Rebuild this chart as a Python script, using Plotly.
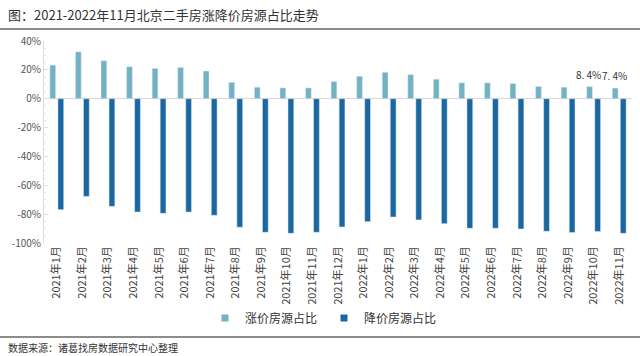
import plotly.graph_objects as go

months = ["2021年1月","2021年2月","2021年3月","2021年4月","2021年5月","2021年6月","2021年7月",
          "2021年8月","2021年9月","2021年10月","2021年11月","2021年12月","2022年1月","2022年2月",
          "2022年3月","2022年4月","2022年5月","2022年6月","2022年7月","2022年8月","2022年9月",
          "2022年10月","2022年11月"]
rise = [23.3, 32.5, 26.3, 22.2, 21.0, 21.7, 19.2, 11.4, 8.0, 7.5, 7.5, 11.9,
        15.6, 18.3, 16.7, 13.5, 11.0, 11.0, 10.5, 8.5, 8.0, 8.4, 7.4]
fall = [-76.9, -67.7, -74.6, -78.5, -79.4, -78.5, -80.8, -89.0, -92.6, -93.3, -92.6, -88.9,
        -85.2, -82.0, -84.0, -86.6, -89.8, -89.8, -90.3, -91.9, -92.8, -92.1, -93.3]
labeled = ["2022年10月", "2022年11月"]
ytick_vals = [40, 20, 0, -20, -40, -60, -80, -100]
ytick_text = ["40%", "20%", "0%", "-20%", "-40%", "-60%", "-80%", "-100%"]

FONT = "Noto Sans CJK SC"
C_RISE = "#72b2c3"
C_FALL = "#1b67a0"

fig = go.Figure()
fig.add_trace(go.Bar(x=months, y=rise, name="涨价房源占比", marker_color=C_RISE, showlegend=False))
fig.add_trace(go.Bar(x=months, y=fall, name="降价房源占比", marker_color=C_FALL, showlegend=False))
# legend entries with small square swatches
fig.add_trace(go.Scatter(x=[None], y=[None], mode="markers", name="涨价房源占比",
                         marker=dict(symbol="square", size=7, color=C_RISE)))
fig.add_trace(go.Scatter(x=[None], y=[None], mode="markers", name="降价房源占比",
                         marker=dict(symbol="square", size=7, color=C_FALL)))

L, R, T, B = 44, 8, 41, 113
W, H = 640, 356
pw = W - L - R
ph = H - T - B

fig.update_layout(
    width=W, height=H,
    margin=dict(l=L, r=R, t=T, b=B, autoexpand=False),
    paper_bgcolor="white", plot_bgcolor="white",
    barmode="group", bargap=0.37, bargroupgap=0.28,
    font=dict(family=FONT, color="#444444"),
    showlegend=True,
    legend=dict(orientation="h", x=(205 - L) / pw, xanchor="left", y=(243 - 318) / ph, yanchor="middle",
                font=dict(size=12, color="#333333", family=FONT),
                itemwidth=30, entrywidth=74, entrywidthmode="pixels",
                traceorder="normal"),
    xaxis=dict(tickangle=-90, tickfont=dict(size=11, color="#444444", family=FONT),
               showline=False, showgrid=False, ticks="", automargin=False),
    yaxis=dict(range=[-100, 40], tickvals=ytick_vals, ticktext=ytick_text, automargin=False,
               tickfont=dict(size=10, color="#555555", family=FONT),
               showgrid=False, zeroline=True, zerolinecolor="#d8d8d8", zerolinewidth=1,
               showline=True, linecolor="#dddddd", linewidth=1,
               ticks="inside", ticklen=4, tickcolor="#dddddd",
               minor=dict(ticks="inside", ticklen=2, dtick=5, tickcolor="#e4e4e4")),
)

# data labels on the last two rise bars
for m, v in zip(months, rise):
    if m in labeled:
        fig.add_annotation(x=m, y=v, xref="x", yref="y", text=f"{v:.1f}%".replace(".", ". "),
                           showarrow=False, xshift=-5, yshift=3, yanchor="bottom",
                           font=dict(size=10, color="#333333", family=FONT))

# title and separator lines
fig.add_annotation(text="图：2021-2022年11月北京二手房涨降价房源占比走势",
                   xref="paper", yref="paper", x=-(L - 6) / pw, y=(243 - 14) / ph,
                   xanchor="left", yanchor="middle", showarrow=False,
                   font=dict(size=13, color="#333333", family=FONT))
fig.add_shape(type="line", xref="paper", yref="paper",
              x0=-L / pw, x1=1 + R / pw, y0=(243 - 29) / ph, y1=(243 - 29) / ph,
              line=dict(color="#666666", width=1.5))
fig.add_shape(type="line", xref="paper", yref="paper",
              x0=-L / pw, x1=1 + R / pw, y0=(243 - 337) / ph, y1=(243 - 337) / ph,
              line=dict(color="#666666", width=1.5))
fig.add_annotation(text="数据来源：诸葛找房数据研究中心整理",
                   xref="paper", yref="paper", x=-(L - 6) / pw, y=(243 - 347) / ph,
                   xanchor="left", yanchor="middle", showarrow=False,
                   font=dict(size=10, color="#333333", family=FONT))

fig.write_html("out.html", config={"displayModeBar": False},
               post_script="document.body.style.margin='0';document.body.style.overflow='hidden';")
